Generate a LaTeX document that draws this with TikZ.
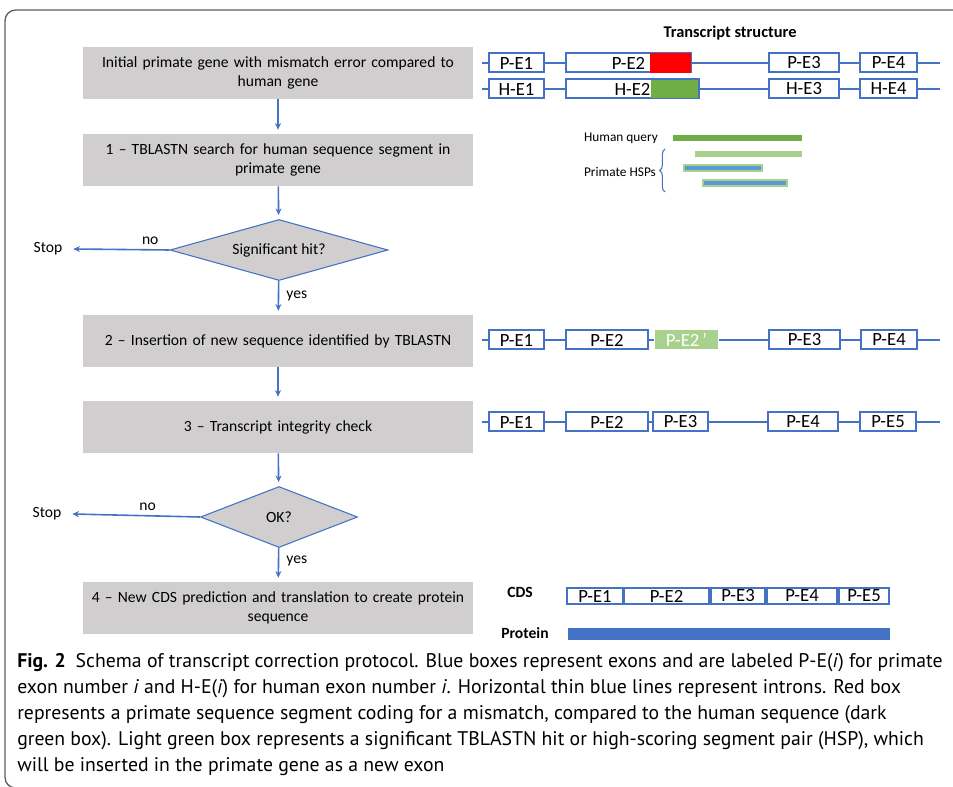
\documentclass[tikz,border=0pt]{standalone}
\usepackage{fontspec}
\setmainfont{Carlito}
\newfontfamily\capfont{PT Sans}
\usetikzlibrary{shapes.geometric,arrows.meta,decorations.pathreplacing}

\definecolor{exonblue}{HTML}{4472C4}
\definecolor{stepgray}{HTML}{D0CECE}
\definecolor{darkgreen}{HTML}{70AD47}
\definecolor{lightgreen}{HTML}{A9D18E}
\definecolor{hspblue}{HTML}{5B9BD5}
\definecolor{framegray}{HTML}{5F5F5F}

\tikzset{
  stepbox/.style={fill=stepgray, minimum width=292.5pt, minimum height=39pt, inner sep=0pt,
    text width=288pt, align=center, font=\fontsize{11.7}{14.5}\selectfont},
  decision/.style={diamond, draw=exonblue, line width=0.8pt, fill=stepgray, inner sep=0pt,
    minimum height=45.75pt, font=\fontsize{11.7}{14}\selectfont},
  flow/.style={exonblue, line width=1.2pt, shorten >=3pt, -{Stealth[length=5pt,width=4.5pt]}},
  lbl/.style={text=black, font=\fontsize{11.7}{14}\selectfont},
  exon/.style={draw=exonblue, line width=1.5pt, fill=white, minimum height=14.25pt, inner sep=0pt,
    font=\fontsize{14}{14}\selectfont},
  intron/.style={exonblue, line width=0.8pt},
}

\begin{document}
\begin{tikzpicture}[x=0.75pt, y=-0.75pt]
  \useasboundingbox (0,0) rectangle (953,787);
  \draw[framegray, line width=1pt, rounded corners=8pt] (960,10) -- (5,10) -- (5,788) -- (40,788);

  % flow chart
  \node[stepbox] (s0) at (278,73) {Initial primate gene with mismatch error compared to\\ human gene};
  \node[stepbox] (s1) at (278,160) {1 – TBLASTN search for human sequence segment in\\ primate gene};
  \node[decision, aspect=3.57, minimum width=163.5pt] (d1) at (279,250) {Significant hit?};
  \node[stepbox] (s2) at (278,341) {2 – Insertion of new sequence identified by TBLASTN};
  \node[stepbox] (s3) at (278,427) {3 – Transcript integrity check};
  \node[decision, aspect=2.57, minimum width=117.75pt] (d2) at (279,517) {OK?};
  \node[stepbox] (s4) at (278,608) {4 – New CDS prediction and translation to create protein\\ sequence};
  \node[lbl, inner xsep=8pt] (stop1) at (48,249) {Stop};
  \node[lbl, inner xsep=8pt] (stop2) at (47,514) {Stop};

  \draw[flow] (s0) -- (s1);
  \draw[flow] (s1) -- (d1);
  \draw[flow] (d1) -- node[lbl, right, pos=0.45, xshift=2pt] {yes} (s2);
  \draw[flow] (s2) -- (s3);
  \draw[flow] (s3) -- (d2);
  \draw[flow] (d2) -- node[lbl, right, pos=0.38, xshift=2pt] {yes} (s4);
  \draw[flow, shorten >=0pt] (d1.west) -- node[lbl, above, pos=0.2] {no} (stop1.east);
  \draw[flow, shorten >=0pt] (d2.west) -- node[lbl, above, pos=0.41] {no} (stop2.east);

  % transcript structure
  \node[lbl, font=\fontsize{12.3}{14}\selectfont\bfseries] (title) at (730,33) {Transcript structure};

  \foreach \a/\b/\t [count=\k] in {489/544/P-E1, 566/691/P-E2, 769/839/P-E3, 860/917/P-E4}
    \node[exon, minimum width={(\b-\a)*0.75pt}] (r1e\k) at ({(\a+\b)/2},63) {\t};
  \foreach \a/\b/\t [count=\k] in {489/544/H-E1, 566/699/H-E2, 769/839/H-E3, 860/917/H-E4}
    \node[exon, minimum width={(\b-\a)*0.75pt}] (r2e\k) at ({(\a+\b)/2},89) {\t};
  \fill[red] (650,53) rectangle (691,73);
  \fill[darkgreen] (651,80) rectangle (698,98);

  \foreach \r/\y in {r1/63, r2/89, r3/340, r4/422} {
    \coordinate (\r l) at (482,\y);
    \coordinate (\r r) at (940,\y);
  }
  \draw[intron] (r1l) -- (r1e1) -- (r1e2) -- (r1e3) -- (r1e4) -- (r1r);
  \draw[intron] (r2l) -- (r2e1) -- (r2e2) -- (r2e3) -- (r2e4) -- (r2r);

  % HSPs
  \node[lbl, font=\fontsize{10}{12}\selectfont] (query) at (621,138) {Human query};
  \node[lbl, font=\fontsize{10}{12}\selectfont] (hsps) at (620,172) {Primate HSPs};
  \fill[darkgreen] (673,135) rectangle (802,141);
  \fill[lightgreen] (695,151) rectangle (802,157);
  \filldraw[fill=hspblue, draw=lightgreen, line width=0.8pt] (684,165) rectangle (762,171);
  \filldraw[fill=hspblue, draw=lightgreen, line width=0.8pt] (703,180) rectangle (787,186);
  \draw[exonblue, line width=0.8pt, decorate, decoration={brace, amplitude=4pt}] (665,192) -- (665,149);

  % step 2 and 3 transcripts
  \foreach \a/\b/\t [count=\k] in {489/544/P-E1, 566/648/P-E2, 769/840/P-E3, 861/917/P-E4}
    \node[exon, minimum width={(\b-\a)*0.75pt}] (r3e\k) at ({(\a+\b)/2},340) {\t};
  \node[exon, draw=none, fill=lightgreen, text=white, minimum width=47.25pt] (r3new) at (686.5,340) {P-E2\,ʼ};
  \draw[intron] (r3l) -- (r3e1) -- (r3e2) -- (r3new) -- (r3e3) -- (r3e4) -- (r3r);

  \foreach \a/\b/\t [count=\k] in {489/544/P-E1, 566/648/P-E2, 653/708/P-E3, 768/838/P-E4, 860/916/P-E5}
    \node[exon, minimum width={(\b-\a)*0.75pt}] (r4e\k) at ({(\a+\b)/2},422) {\t};
  \draw[intron] (r4l) -- (r4e1) -- (r4e2) -- (r4e3) -- (r4e4) -- (r4e5) -- (r4r);

  % CDS and protein
  \node[lbl, font=\fontsize{11.7}{14}\selectfont\bfseries] (cds) at (520,592) {CDS};
  \node[lbl, font=\fontsize{11.7}{14}\selectfont\bfseries] (prot) at (525,633) {Protein};
  \foreach \a/\b/\t [count=\k] in {567/623/P-E1, 624/709/P-E2, 711/765/P-E3, 767/837/P-E4, 839/889/P-E5}
    \node[exon, minimum width={(\b-\a)*0.75pt}, minimum height=12pt] (cds\k) at ({(\a+\b)/2},596) {\t};
  \fill[exonblue] (568,628) rectangle (890,640);

  % caption
  \node[anchor=west, align=left, inner sep=0pt, font=\capfont\fontsize{14.8}{19.5}\selectfont] (caption) at (17,715)
    {\textbf{Fig. 2}\enspace Schema of transcript correction protocol. Blue boxes represent exons and are labeled P-E(\textit{i}) for primate\\
     exon number \textit{i} and H-E(\textit{i}) for human exon number \textit{i}. Horizontal thin blue lines represent introns. Red box\\
     represents a primate sequence segment coding for a mismatch, compared to the human sequence (dark\\
     green box). Light green box represents a significant TBLASTN hit or high-scoring segment pair (HSP), which\\
     will be inserted in the primate gene as a new exon};
\end{tikzpicture}
\end{document}
